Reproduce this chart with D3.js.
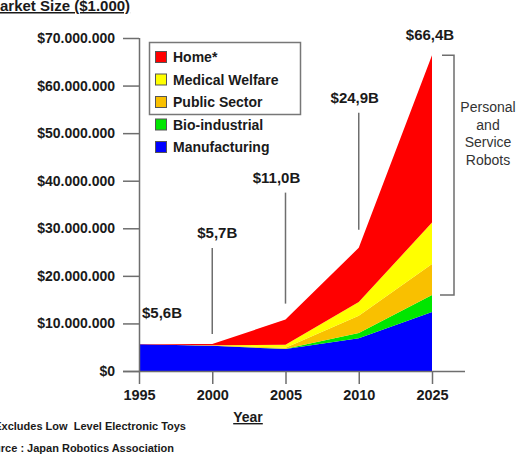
<!DOCTYPE html>
<html>
<head>
<meta charset="utf-8">
<script src="https://cdn.jsdelivr.net/npm/d3@7"></script>
<style>
  body { margin: 0; background: #fff; }
  text { font-family: "Liberation Sans", Arial, sans-serif; }
</style>
</head>
<body>
<div id="chart"></div>
<script>
// values in $1.000
var years = ["1995", "2000", "2005", "2010", "2025"];
var manufacturing = [5600000, 5300000, 4600000, 6900000, 12400000];
var bioIndustrial = [0, 0, 100000, 1100000, 3600000];
var publicSector = [0, 50000, 200000, 3600000, 6500000];
var medicalWelfare = [0, 50000, 600000, 2900000, 8700000];
var home = [50000, 300000, 5300000, 11400000, 35200000];
var totalLabels = ["$5,6B", "$5,7B", "$11,0B", "$24,9B", "$66,4B"];
var yTicks = [0, 10000000, 20000000, 30000000, 40000000, 50000000, 60000000, 70000000];

var seriesNames = ["Manufacturing", "Bio-industrial", "Public Sector", "Medical Welfare", "Home*"];
var seriesColors = ["#0000ff", "#00e600", "#f9c000", "#ffff00", "#ff0000"];

var width = 525;
var height = 454;

var svg = d3.select("#chart")
    .append("svg")
    .attr("width", width)
    .attr("height", height);

// build rows for the stack
var table = years.map(function(y, i) {
    var row = { year: y };
    row[seriesNames[0]] = manufacturing[i];
    row[seriesNames[1]] = bioIndustrial[i];
    row[seriesNames[2]] = publicSector[i];
    row[seriesNames[3]] = medicalWelfare[i];
    row[seriesNames[4]] = home[i];
    return row;
});

var stacked = d3.stack().keys(seriesNames)(table);

var x = d3.scalePoint().domain(years).range([139, 432]);
var y = d3.scaleLinear().domain([0, 70000000]).range([371, 38]);

var color = d3.scaleOrdinal().domain(seriesNames).range(seriesColors);

var area = d3.area()
    .x(function(d) { return x(d.data.year); })
    .y0(function(d) { return y(d[0]); })
    .y1(function(d) { return y(d[1]); });

svg.selectAll("path.layer")
    .data(stacked)
    .enter()
    .append("path")
    .attr("class", "layer")
    .attr("d", area)
    .attr("fill", function(d) { return color(d.key); });

// axes
var loc = d3.formatLocale({ decimal: ",", thousands: ".", grouping: [3], currency: ["$", ""] });
var fmt = loc.format("$,");

var yAxis = svg.append("g")
    .attr("transform", "translate(139,0)")
    .call(d3.axisLeft(y).tickValues(yTicks).tickFormat(fmt).tickSize(16).tickPadding(8));

var xAxis = svg.append("g")
    .attr("transform", "translate(0,371)")
    .call(d3.axisBottom(x).tickSize(13).tickPadding(6).tickSizeOuter(0));

// x axis line goes a bit past the last year, like the original
xAxis.select(".domain").attr("d", "M123,0.5H465");
yAxis.select(".domain").attr("d", "M0.5," + y(70000000) + "V" + y(0));

svg.selectAll(".domain, .tick line")
    .attr("stroke", "#6e6e6e")
    .attr("stroke-width", 1.5);

svg.selectAll(".tick text")
    .attr("font-size", "14px")
    .attr("font-weight", "bold")
    .attr("fill", "#1a1a1a");

xAxis.selectAll(".tick text").attr("font-size", "14.5px");

// titles
svg.append("text")
    .attr("x", -12.5)
    .attr("y", 11)
    .attr("font-size", "15px")
    .attr("font-weight", "bold")
    .attr("text-decoration", "underline")
    .attr("fill", "#1a1a1a")
    .text("Market Size ($1.000)");

svg.append("text")
    .attr("x", 248)
    .attr("y", 422)
    .attr("text-anchor", "middle")
    .attr("font-size", "14px")
    .attr("font-weight", "bold")
    .attr("text-decoration", "underline")
    .attr("fill", "#1a1a1a")
    .text("Year");

svg.append("text")
    .attr("x", 186)
    .attr("y", 430)
    .attr("text-anchor", "end")
    .attr("font-size", "11px")
    .attr("font-weight", "bold")
    .attr("fill", "#1a1a1a")
    .style("white-space", "pre")
    .text("* Excludes Low  Level Electronic Toys");

svg.append("text")
    .attr("x", 174)
    .attr("y", 452)
    .attr("text-anchor", "end")
    .attr("font-size", "11px")
    .attr("font-weight", "bold")
    .attr("fill", "#1a1a1a")
    .text("Source : Japan Robotics Association");

// totals over the areas
var totals = table.map(function(d) {
    return d3.sum(seriesNames, function(k) { return d[k]; });
});

// label offsets above the top of the stack, and callout line lengths
var labelLift = [26, 106, 137, 145, 15];
var labelShift = [23, 5, -9, -4, -2];
var lineGap = [0, 10, 16, 18, 0];

years.forEach(function(yr, i) {
    var top = y(totals[i]);
    svg.append("text")
        .attr("x", x(yr) + labelShift[i])
        .attr("y", top - labelLift[i])
        .attr("text-anchor", "middle")
        .attr("font-size", "15px")
        .attr("font-weight", "bold")
        .attr("fill", "#1a1a1a")
        .text(totalLabels[i]);

    if (lineGap[i] > 0) {
        svg.append("line")
            .attr("x1", x(yr))
            .attr("x2", x(yr))
            .attr("y1", top - labelLift[i] + 10)
            .attr("y2", top - lineGap[i])
            .attr("stroke", "#6e6e6e")
            .attr("stroke-width", 1.5);
    }
});

// bracket for personal and service robots
var last = years.length - 1;
var bTop = y(totals[last]);
var bBot = y(manufacturing[last] + bioIndustrial[last]);
var bx = x(years[last]);
svg.append("path")
    .attr("d", "M" + (bx + 10) + "," + bTop + "H" + (bx + 22) + "V" + bBot + "H" + (bx + 8))
    .attr("fill", "none")
    .attr("stroke", "#6e6e6e")
    .attr("stroke-width", 1.5);

var bText = svg.append("text")
    .attr("text-anchor", "middle")
    .attr("font-size", "14px")
    .attr("fill", "#333");
["Personal", "and", "Service", "Robots"].forEach(function(s, i) {
    bText.append("tspan")
        .attr("x", 488)
        .attr("y", 112 + i * 17.5)
        .text(s);
});

// legend
var legend = svg.append("g");
legend.append("rect")
    .attr("x", 149.5)
    .attr("y", 42.5)
    .attr("width", 151)
    .attr("height", 72)
    .attr("fill", "#fff")
    .attr("stroke", "#777")
    .attr("stroke-width", 1.5);

var legendOrder = seriesNames.slice().reverse();
legendOrder.forEach(function(name, i) {
    var cy = 57 + i * 22.5;
    legend.append("rect")
        .attr("x", 155.5)
        .attr("y", cy - 5.5)
        .attr("width", 11)
        .attr("height", 11)
        .attr("fill", color(name))
        .attr("stroke", "#555")
        .attr("stroke-width", 1);
    legend.append("text")
        .attr("x", 173)
        .attr("y", cy + 5)
        .attr("font-size", "14px")
        .attr("font-weight", "bold")
        .attr("fill", "#1a1a1a")
        .text(name);
});
</script>
</body>
</html>
